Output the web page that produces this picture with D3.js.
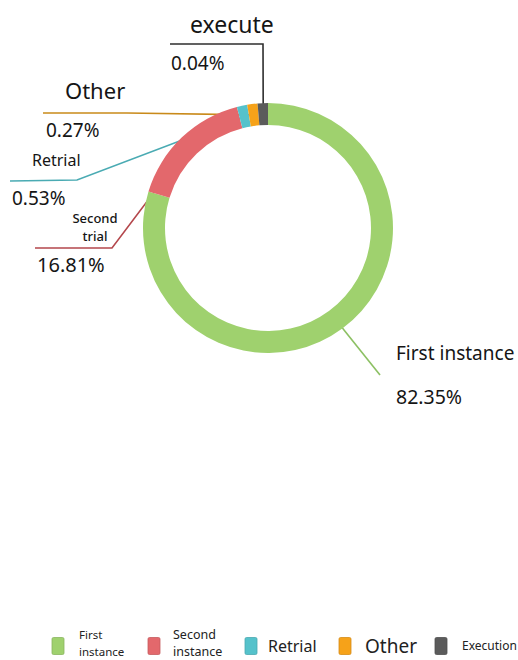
<!DOCTYPE html>
<html>
<head>
<meta charset="utf-8">
<script src="https://cdn.jsdelivr.net/npm/d3@7/dist/d3.min.js"></script>
<style>
  html, body { margin: 0; padding: 0; background: #fff; }
  svg { display: block; font-family: "Noto Sans", "Open Sans", sans-serif; }
</style>
</head>
<body>
<svg id="chart" width="518" height="660"></svg>
<script>
// Share of cases by stage (percent)
const categories = ["First instance", "Second trial", "Retrial", "Other", "execute"];
const values = [82.35, 16.81, 0.53, 0.27, 0.04];
const sliceColors = ["#9fd16e", "#e3686c", "#55c2cb", "#f6a219", "#5b5b5b"];
const lineColors = ["#8cc063", "#b4474c", "#4aabb3", "#c98a1a", "#2e2e2e"];
const legendLabels = [["First", "instance"], ["Second", "instance"], ["Retrial"], ["Other"], ["Execution"]];

// Ring geometry
const cx = 268, cy = 228;
const innerR = 103, outerR = 125;
const minAngle = 4.8 * Math.PI / 180;   // smallest visible sector

// Label layout: text placement and label-line route (elbow, end)
const labelLayout = [
  { name: { lines: ["First instance"], x: 396, y: 360, size: 19, anchor: "start" },
    pct: { x: 396, y: 404, size: 19.5 }, route: [[380, 375]] },
  { name: { lines: ["Second", "trial"], x: 95, y: 223, size: 13, anchor: "middle", lh: 18 },
    pct: { x: 37, y: 272, size: 20 }, route: [[112, 248], [35, 248]] },
  { name: { lines: ["Retrial"], x: 32, y: 166, size: 16, anchor: "start" },
    pct: { x: 12, y: 205, size: 19 }, route: [[77, 180], [10, 181]] },
  { name: { lines: ["Other"], x: 65, y: 99, size: 22, anchor: "start" },
    pct: { x: 46, y: 137, size: 19 }, route: [[127, 113], [43, 113]] },
  { name: { lines: ["execute"], x: 190, y: 33, size: 23, anchor: "start" },
    pct: { x: 171, y: 70, size: 19 }, route: [[263, 44], [170, 44]] }
];

// Legend placement
const legendX = [52, 148, 245, 339, 435];
const legendTextDx = [27, 25, 23, 26, 27];
const legendSizes = [11.5, 12.5, 16, 19, 12];
const legendY = 646;

const svg = d3.select("#chart");

// Sector angles: sectors below the minimum angle are widened, the rest share what is left
const total = d3.sum(values);
const isSmall = values.map(v => v / total * 2 * Math.PI < minAngle);
const nSmall = isSmall.filter(Boolean).length;
const largeSum = d3.sum(values.filter((v, i) => !isSmall[i]));
const angleScale = d3.scaleLinear().domain([0, largeSum]).range([0, 2 * Math.PI - nSmall * minAngle]);

let acc = 0;
const slices = values.map((v, i) => {
  const span = isSmall[i] ? minAngle : angleScale(v);
  const s = { index: i, value: v, startAngle: acc, endAngle: acc + span };
  acc += span;
  return s;
});

const arc = d3.arc().innerRadius(innerR).outerRadius(outerR);
const pointAt = (a, r) => [cx + r * Math.sin(a), cy - r * Math.cos(a)];

// Label lines sit under the ring, starting inside the sector
const lineGen = d3.line();
svg.append("g").selectAll("path")
  .data(slices)
  .join("path")
  .attr("d", d => {
    const mid = (d.startAngle + d.endAngle) / 2;
    return lineGen([pointAt(mid, (innerR + outerR) / 2), ...labelLayout[d.index].route]);
  })
  .attr("fill", "none")
  .attr("stroke", d => lineColors[d.index])
  .attr("stroke-width", 1.6);

// Ring
svg.append("g")
  .attr("transform", `translate(${cx},${cy})`)
  .selectAll("path")
  .data(slices)
  .join("path")
  .attr("d", arc)
  .attr("fill", d => sliceColors[d.index]);

// Labels: name and percentage
const labels = svg.append("g").attr("fill", "#151515");
slices.forEach(d => {
  const L = labelLayout[d.index];
  const t = labels.append("text")
    .attr("x", L.name.x).attr("y", L.name.y)
    .attr("font-size", L.name.size)
    .attr("text-anchor", L.name.anchor)
    .attr("font-weight", L.name.lines.length > 1 ? 500 : 400);
  L.name.lines.forEach((ln, k) => {
    t.append("tspan").attr("x", L.name.x).attr("dy", k === 0 ? 0 : L.name.lh).text(ln);
  });
  labels.append("text")
    .attr("x", L.pct.x).attr("y", L.pct.y)
    .attr("font-size", L.pct.size)
    .text(d3.format(".2f")(d.value) + "%");
});

// Legend
const legend = svg.append("g");
categories.forEach((c, i) => {
  const g = legend.append("g");
  g.append("rect")
    .attr("x", legendX[i]).attr("y", legendY - 8.5)
    .attr("width", 12).attr("height", 17).attr("rx", 1.5)
    .attr("fill", sliceColors[i])
    .attr("stroke", d3.color(sliceColors[i]).darker(0.4))
    .attr("stroke-width", 0.8);
  const lines = legendLabels[i];
  if (lines.length === 1) {
    g.append("text")
      .attr("font-size", legendSizes[i])
      .attr("fill", "#222")
      .attr("x", legendX[i] + legendTextDx[i])
      .attr("y", legendY + legendSizes[i] * 0.36)
      .text(lines[0]);
  } else {
    // two-line legend entries, one text element per line
    lines.forEach((ln, k) => {
      g.append("text")
        .attr("font-size", legendSizes[i])
        .attr("fill", "#222")
        .attr("x", legendX[i] + legendTextDx[i])
        .attr("y", legendY - 7 + k * 17)
        .text(ln);
    });
  }
});
</script>
</body>
</html>
